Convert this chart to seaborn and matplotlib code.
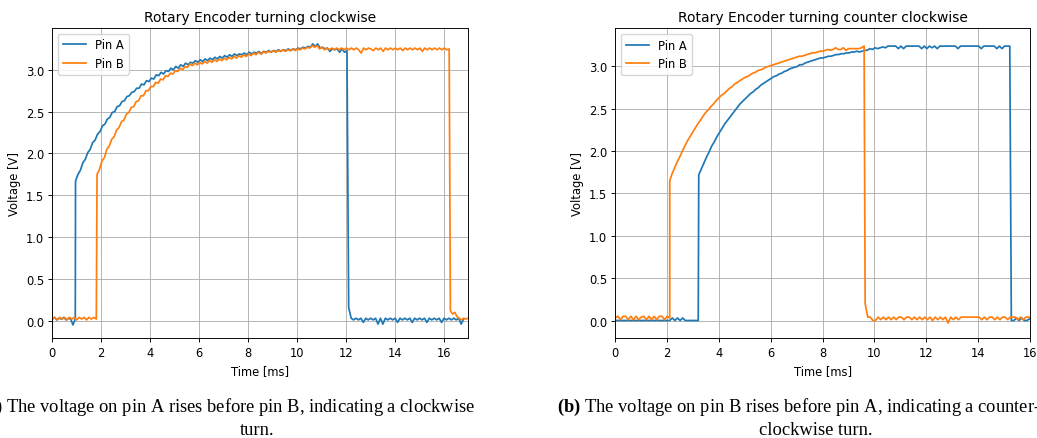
import numpy as np
import pandas as pd
import matplotlib
matplotlib.use("Agg")
import matplotlib.pyplot as plt
import seaborn as sns

# ---------------- data (segments: start time [ms], sample step [ms], voltages [V]) -------------
cw_pin_a = [
    (0.00, 0.094, [0.02, 0.04, 0.01, 0.03, 0.02, 0.04, 0.01, 0.03, 0.02, -0.05, 0.02]),
    (0.95, 0.1, [1.67, 1.75, 1.80, 1.89, 1.93, 2.01, 2.05, 2.13, 2.16, 2.23,
                 2.26, 2.33, 2.35, 2.41, 2.43, 2.49, 2.50, 2.56, 2.57, 2.62,
                 2.63, 2.68, 2.69, 2.73, 2.74, 2.78, 2.78, 2.83, 2.82, 2.87,
                 2.86, 2.90, 2.89, 2.94, 2.93, 2.97, 2.95, 2.99, 2.98, 3.02,
                 3.00, 3.04, 3.02, 3.06, 3.04, 3.08, 3.06, 3.09, 3.08, 3.11,
                 3.09, 3.12, 3.10, 3.13, 3.11, 3.14, 3.12, 3.15, 3.13, 3.16,
                 3.14, 3.17, 3.15, 3.18, 3.16, 3.19, 3.17, 3.19, 3.18, 3.20,
                 3.18, 3.21, 3.19, 3.21, 3.20, 3.22, 3.19, 3.22, 3.21, 3.23,
                 3.21, 3.23, 3.22, 3.24, 3.22, 3.24, 3.23, 3.25, 3.23, 3.25,
                 3.24, 3.26, 3.25, 3.27, 3.26, 3.28, 3.27, 3.31, 3.28, 3.31,
                 3.26, 3.27, 3.25, 3.26, 3.22, 3.25, 3.24, 3.25, 3.21, 3.25,
                 3.21, 3.23]),
    (12.12, 0.1, [0.16, 0.03, 0.01, 0.03, 0.01, 0.03, -0.02, 0.03, 0.01, 0.03,
                  0.01, 0.03, -0.04, 0.03, -0.04, 0.03, 0.01, 0.03, 0.01, 0.03,
                  -0.02, 0.03, 0.01, 0.03, 0.01, 0.03, -0.02, 0.03, 0.01, 0.03,
                  0.01, 0.03, -0.02, 0.03, 0.01, 0.03, 0.01, 0.03, -0.02, 0.03,
                  0.01, 0.03, 0.01, 0.03, 0.01, 0.03, -0.04, 0.02]),
]
cw_pin_b = [
    (0.00, 0.1, [0.02, 0.04, 0.01, 0.04, 0.02, 0.04, 0.01, 0.04, 0.02, 0.04,
                 0.01, 0.04, 0.02, 0.04, 0.01, 0.04, 0.02, 0.04, 0.02]),
    (1.83, 0.1, [1.75, 1.81, 1.91, 1.95, 2.05, 2.09, 2.17, 2.20, 2.28, 2.31,
                 2.38, 2.40, 2.47, 2.49, 2.55, 2.56, 2.62, 2.63, 2.69, 2.69,
                 2.75, 2.75, 2.80, 2.80, 2.85, 2.84, 2.89, 2.88, 2.93, 2.92,
                 2.96, 2.95, 2.99, 2.98, 3.02, 3.00, 3.04, 3.03, 3.07, 3.05,
                 3.08, 3.06, 3.09, 3.07, 3.10, 3.08, 3.11, 3.09, 3.12, 3.10,
                 3.13, 3.11, 3.14, 3.12, 3.15, 3.13, 3.16, 3.14, 3.17, 3.15,
                 3.18, 3.16, 3.19, 3.17, 3.20, 3.18, 3.21, 3.19, 3.22, 3.20,
                 3.22, 3.21, 3.23, 3.21, 3.23, 3.22, 3.24, 3.22, 3.24, 3.23,
                 3.25, 3.23, 3.25, 3.24, 3.26, 3.25, 3.27, 3.26, 3.29, 3.27,
                 3.29, 3.25, 3.27, 3.24, 3.26, 3.24, 3.26, 3.24, 3.26, 3.24,
                 3.26, 3.24, 3.26, 3.24, 3.26, 3.24, 3.26, 3.24, 3.20, 3.26,
                 3.24, 3.26, 3.25, 3.23, 3.26, 3.24, 3.26, 3.22, 3.26, 3.24,
                 3.26, 3.24, 3.26, 3.24, 3.26, 3.23, 3.26, 3.24, 3.26, 3.24,
                 3.26, 3.24, 3.26, 3.22, 3.26, 3.24, 3.26, 3.24, 3.26, 3.24,
                 3.26, 3.24, 3.26, 3.24, 3.25]),
    (16.28, 0.09, [0.12, 0.08, 0.10, 0.05, 0.03, 0.01, 0.03, 0.02, 0.03]),
]
ccw_pin_a = [
    (0.00, 0.1, [0.00, 0.00, 0.00, 0.00, 0.00, 0.00, 0.00, 0.00, 0.00, 0.00,
                 0.00, 0.00, 0.00, 0.00, 0.00, 0.00, 0.00, 0.00, 0.00, 0.00,
                 0.00, 0.00, 0.03, 0.00, 0.03, 0.00, 0.03, 0.00, 0.00, 0.00,
                 0.00, 0.00, 0.00]),
    (3.22, 0.1, [1.72, 1.79, 1.86, 1.93, 1.99, 2.06, 2.11, 2.17, 2.22, 2.27,
                 2.32, 2.36, 2.40, 2.44, 2.48, 2.52, 2.56, 2.59, 2.62, 2.65,
                 2.68, 2.70, 2.73, 2.75, 2.78, 2.80, 2.82, 2.84, 2.86, 2.88,
                 2.89, 2.91, 2.92, 2.94, 2.95, 2.97, 2.98, 2.99, 3.00, 3.02,
                 3.02, 3.04, 3.05, 3.06, 3.07, 3.08, 3.09, 3.10, 3.10, 3.11,
                 3.12, 3.12, 3.13, 3.14, 3.14, 3.15, 3.15, 3.16, 3.16, 3.17,
                 3.17, 3.18, 3.17, 3.18, 3.19, 3.19, 3.21, 3.20, 3.22, 3.21,
                 3.22, 3.23, 3.22, 3.24, 3.24, 3.24, 3.24, 3.21, 3.24, 3.21,
                 3.24, 3.24, 3.24, 3.24, 3.24, 3.24, 3.21, 3.24, 3.21, 3.24,
                 3.22, 3.24, 3.21, 3.24, 3.24, 3.24, 3.24, 3.24, 3.24, 3.24,
                 3.21, 3.24, 3.24, 3.24, 3.24, 3.24, 3.24, 3.24, 3.24, 3.21,
                 3.24, 3.24, 3.24, 3.24, 3.24, 3.21, 3.24, 3.21, 3.24, 3.24,
                 3.24]),
    (15.28, 0.1, [0.00, 0.00, 0.03, 0.00, 0.03, 0.00, 0.00, 0.02, 0.00]),
]
ccw_pin_b = [
    (0.00, 0.1, [0.03, 0.05, 0.01, 0.05, 0.05, 0.01, 0.05, 0.01, 0.05, 0.01,
                 0.04, 0.05, 0.01, 0.05, 0.01, 0.05, 0.01, 0.05, 0.05, 0.01,
                 0.05, 0.03]),
    (2.10, 0.1, [1.65, 1.74, 1.81, 1.88, 1.94, 2.01, 2.07, 2.13, 2.18, 2.23,
                 2.28, 2.33, 2.37, 2.42, 2.46, 2.49, 2.53, 2.56, 2.60, 2.63,
                 2.66, 2.68, 2.71, 2.74, 2.76, 2.79, 2.81, 2.83, 2.85, 2.87,
                 2.88, 2.90, 2.92, 2.93, 2.95, 2.96, 2.97, 2.99, 3.00, 3.01,
                 3.02, 3.03, 3.04, 3.05, 3.06, 3.07, 3.08, 3.09, 3.10, 3.11,
                 3.12, 3.12, 3.13, 3.14, 3.15, 3.16, 3.16, 3.17, 3.18, 3.18,
                 3.19, 3.20, 3.19, 3.20, 3.22, 3.20, 3.20, 3.22, 3.19, 3.21,
                 3.21, 3.21, 3.21, 3.21, 3.22, 3.24]),
    (9.64, 0.1, [0.20, 0.04, 0.04, 0.00, 0.00, 0.04, 0.01, 0.04, 0.01, 0.04,
                 0.01, 0.04, 0.01, 0.04, 0.04, 0.01, 0.04, 0.04, 0.01, 0.04,
                 0.01, 0.04, 0.01, 0.04, 0.01, 0.04, 0.00, 0.04, 0.01, 0.04,
                 0.01, 0.04, -0.03, 0.04, 0.01, 0.04, 0.01, 0.04, 0.04, 0.04,
                 0.04, 0.04, 0.04, 0.04, 0.04, 0.01, 0.04, 0.01, 0.04, 0.04,
                 0.01, 0.04, 0.01, 0.04, 0.04, 0.01, 0.04, 0.04, 0.04, 0.01,
                 0.04, 0.01, 0.04, 0.04, 0.03]),
]

titles = ["Rotary Encoder turning clockwise", "Rotary Encoder turning counter clockwise"]
series_labels = ["Pin A", "Pin B"]
x_label = "Time [ms]"
y_label = "Voltage [V]"
caption_a1 = r"$\mathbf{(a)}$ The voltage on pin A rises before pin B, indicating a clockwise"
caption_a2 = "turn."
caption_b1 = r"$\mathbf{(b)}$ The voltage on pin B rises before pin A, indicating a counter-"
caption_b2 = "clockwise turn."


def build(segments):
    t, v = [], []
    for start, step, vals in segments:
        t.append(start + step * np.arange(len(vals)))
        v.append(np.asarray(vals, dtype=float))
    return np.concatenate(t), np.concatenate(v)


# ---------------- style ----------------
s = 0.832
plt.rcParams.update({
    "font.family": ["DejaVu Sans"],
    "font.size": 10 * s,
    "axes.titlesize": 12 * s,
    "axes.labelsize": 10 * s,
    "xtick.labelsize": 10 * s,
    "ytick.labelsize": 10 * s,
    "legend.fontsize": 10 * s,
    "axes.linewidth": 0.8 * s,
    "grid.linewidth": 0.8 * s,
    "grid.color": "#b0b0b0",
    "xtick.major.width": 0.8 * s,
    "ytick.major.width": 0.8 * s,
    "xtick.major.size": 3.5 * s,
    "ytick.major.size": 3.5 * s,
    "xtick.major.pad": 3.5 * s,
    "ytick.major.pad": 3.5 * s,
    "axes.titlepad": 6 * s,
    "axes.labelpad": 4 * s,
    "mathtext.fontset": "custom",
    "mathtext.rm": "Liberation Serif",
    "mathtext.bf": "Liberation Serif:bold",
})

colors = ["#1f77b4", "#ff7f0e"]

fig = plt.figure(figsize=(10.37, 4.39), dpi=100)
ax1 = fig.add_axes([52.3 / 1037, 99.7 / 439, 415.7 / 1037, 310.3 / 439])
ax2 = fig.add_axes([615.3 / 1037, 99.7 / 439, 414.7 / 1037, 310.0 / 439])

panels = [(ax1, [cw_pin_a, cw_pin_b], (0, 17), (-0.21, 3.50)),
          (ax2, [ccw_pin_a, ccw_pin_b], (0, 16), (-0.21, 3.45))]

for (ax, series, xl, yl), title in zip(panels, titles):
    for segs, lab, col in zip(series, series_labels, colors):
        t, v = build(segs)
        sns.lineplot(x=t, y=v, ax=ax, label=lab, color=col, linewidth=1.5 * s,
                     estimator=None, sort=False)
    ax.set_xlim(*xl)
    ax.set_ylim(*yl)
    ax.set_xticks(np.arange(xl[0], xl[1] + 0.1, 2))
    ax.set_yticks([0.0, 0.5, 1.0, 1.5, 2.0, 2.5, 3.0])
    ax.grid(True)
    ax.set_title(title)
    ax.set_xlabel(x_label)
    ax.set_ylabel(y_label)
    ax.legend(loc="upper left")

cap_kw = dict(family="Liberation Serif", fontsize=13.3, va="baseline")
fig.text(475 / 1037, (439 - 412) / 439, caption_a1, ha="right", **cap_kw)
fig.text(257 / 1037, (439 - 435) / 439, caption_a2, ha="center", **cap_kw)
fig.text(557 / 1037, (439 - 412) / 439, caption_b1, ha="left", **cap_kw)
fig.text(816 / 1037, (439 - 435) / 439, caption_b2, ha="center", **cap_kw)

fig.savefig("out.png", dpi=100)
